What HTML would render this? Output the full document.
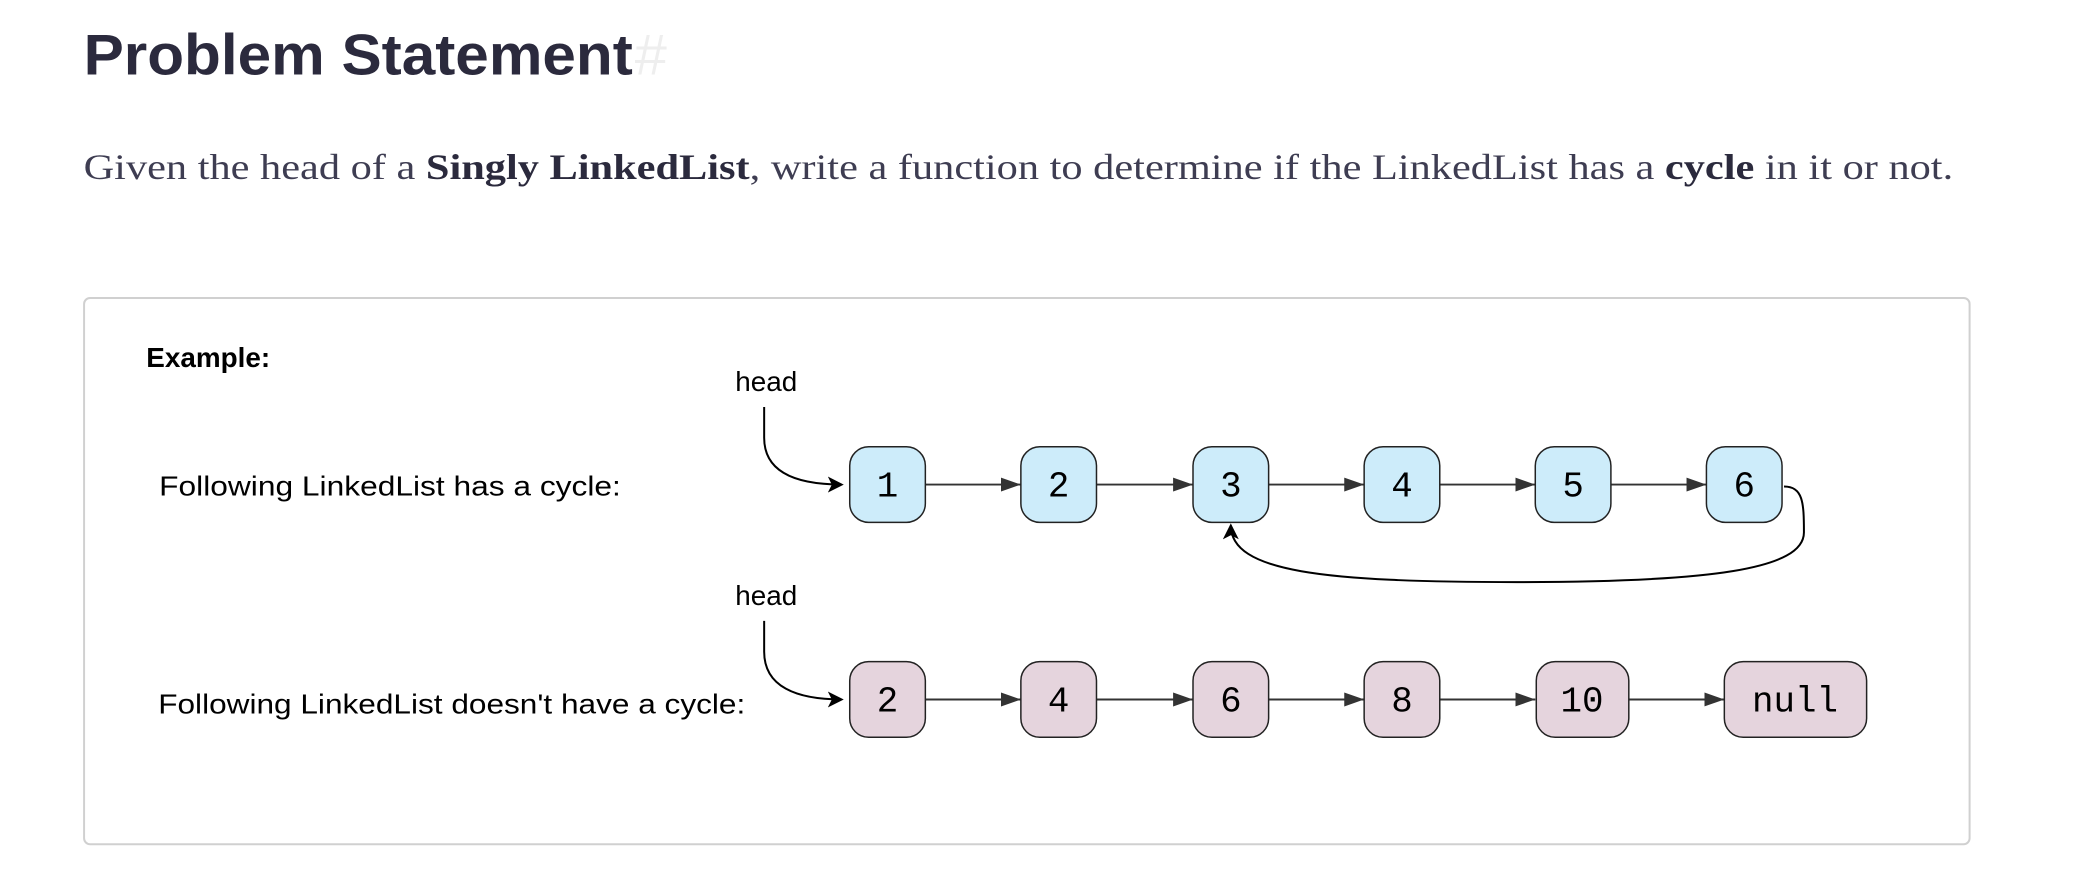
<!DOCTYPE html>
<html><head><meta charset="utf-8"><style>
html,body{margin:0;padding:0;background:#fff;width:2080px;height:870px;overflow:hidden}
</style></head><body>
<svg width="2080" height="870" viewBox="0 0 2080 870" xmlns="http://www.w3.org/2000/svg">
<defs>
<marker id="tri" markerWidth="20" markerHeight="14" refX="20" refY="7" orient="auto" markerUnits="userSpaceOnUse">
<path d="M0,0 L20,7 L0,14 Z" fill="#333"/></marker>
<marker id="stl" markerWidth="16" markerHeight="16" refX="14" refY="8" orient="auto" markerUnits="userSpaceOnUse">
<path d="M0,0 L16,8 L0,16 L4,8 Z" fill="#000"/></marker>
</defs>
<g transform="scale(0.995)">
<text x="84" y="75" font-family="Liberation Sans, sans-serif" font-size="58" font-weight="bold" fill="#2b2a3d" textLength="552" lengthAdjust="spacingAndGlyphs">Problem Statement</text>
<text x="638" y="75" font-family="Liberation Sans, sans-serif" font-size="58" fill="#eeeeee">#</text>
<text x="84" y="180" font-family="Liberation Serif, serif" font-size="36" fill="#3e3d52" textLength="1879" lengthAdjust="spacingAndGlyphs">Given the head of a <tspan font-weight="bold" fill="#2b2a3d">Singly LinkedList</tspan>, write a function to determine if the LinkedList has a <tspan font-weight="bold" fill="#2b2a3d">cycle</tspan> in it or not.</text>
<rect x="84.5" y="299.5" width="1895" height="549" rx="6" fill="#fff" stroke="#d0d0d0" stroke-width="2"/>
<g font-family="Liberation Sans, sans-serif" fill="#000">
<text x="147" y="369" font-size="28" font-weight="bold">Example:</text>
<text x="739" y="393" font-size="28">head</text>
<text x="160" y="498" font-size="28" textLength="464" lengthAdjust="spacingAndGlyphs">Following LinkedList has a cycle:</text>
<text x="739" y="608" font-size="28">head</text>
<text x="159" y="717" font-size="28" textLength="590" lengthAdjust="spacingAndGlyphs">Following LinkedList doesn't have a cycle:</text>
</g>
<g fill="none" stroke="#000" stroke-width="2">
<path d="M768,409 L768,440 C768,475 800,487 846,487" marker-end="url(#stl)"/>
<path d="M768,624 L768,655 C768,690 800,703 846,703" marker-end="url(#stl)"/>
<path d="M1793,489 C1812,489 1813,505 1813,535 C1813,572 1720,585 1525,585 C1330,585 1237,575 1237,528" marker-end="url(#stl)"/>
</g>
<g stroke="#333" stroke-width="2" fill="none">
<line x1="930" y1="487" x2="1026" y2="487" marker-end="url(#tri)"/>
<line x1="1102" y1="487" x2="1199" y2="487" marker-end="url(#tri)"/>
<line x1="1275" y1="487" x2="1371" y2="487" marker-end="url(#tri)"/>
<line x1="1447" y1="487" x2="1543" y2="487" marker-end="url(#tri)"/>
<line x1="1619" y1="487" x2="1715" y2="487" marker-end="url(#tri)"/>
<line x1="930" y1="703" x2="1026" y2="703" marker-end="url(#tri)"/>
<line x1="1102" y1="703" x2="1199" y2="703" marker-end="url(#tri)"/>
<line x1="1275" y1="703" x2="1371" y2="703" marker-end="url(#tri)"/>
<line x1="1447" y1="703" x2="1543" y2="703" marker-end="url(#tri)"/>
<line x1="1637" y1="703" x2="1733" y2="703" marker-end="url(#tri)"/>
</g>
<g stroke="#222" stroke-width="1.5" fill="#cdecfa">
<rect x="854" y="449" width="76" height="76" rx="19"/>
<rect x="1026" y="449" width="76" height="76" rx="19"/>
<rect x="1199" y="449" width="76" height="76" rx="19"/>
<rect x="1371" y="449" width="76" height="76" rx="19"/>
<rect x="1543" y="449" width="76" height="76" rx="19"/>
<rect x="1715" y="449" width="76" height="76" rx="19"/>
</g>
<g stroke="#222" stroke-width="1.5" fill="#e5d4dd">
<rect x="854" y="665" width="76" height="76" rx="19"/>
<rect x="1026" y="665" width="76" height="76" rx="19"/>
<rect x="1199" y="665" width="76" height="76" rx="19"/>
<rect x="1371" y="665" width="76" height="76" rx="19"/>
<rect x="1544" y="665" width="93" height="76" rx="19"/>
<rect x="1733" y="665" width="143" height="76" rx="19"/>
</g>
<g font-family="Liberation Mono, monospace" font-size="36" fill="#000" text-anchor="middle">
<text x="892" y="499">1</text><text x="1064" y="499">2</text><text x="1237" y="499">3</text>
<text x="1409" y="499">4</text><text x="1581" y="499">5</text><text x="1753" y="499">6</text>
<text x="892" y="715">2</text><text x="1064" y="715">4</text><text x="1237" y="715">6</text>
<text x="1409" y="715">8</text><text x="1590" y="715">10</text><text x="1804" y="715">null</text>
</g>
</g>
</svg>
</body></html>
